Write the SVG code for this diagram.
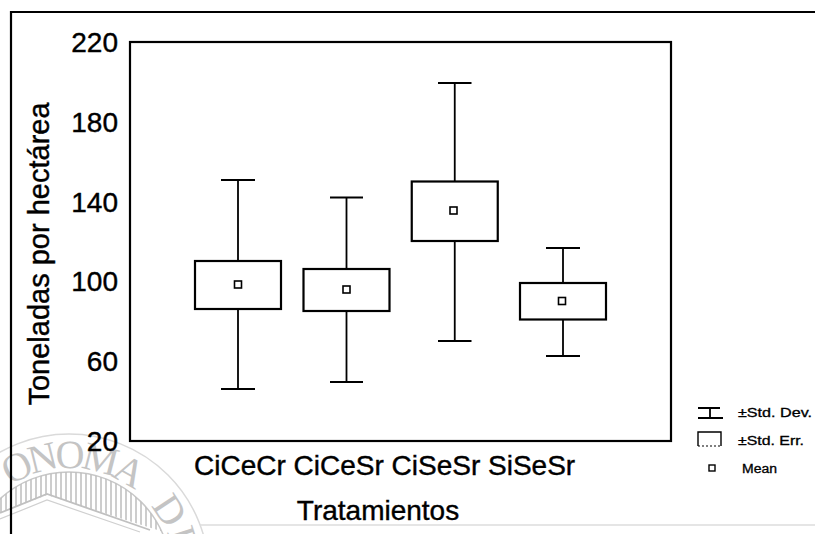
<svg xmlns="http://www.w3.org/2000/svg" width="815" height="534" viewBox="0 0 815 534">
<style>
  .t { font-family: "Liberation Sans", Arial, sans-serif; fill: #000; stroke: #000; stroke-width: 0.4px; }
  .tick { font-size: 28px; text-anchor: end; }
  .leg { font-size: 12px; stroke-width: 0.3px; }
  .box { fill: #fff; stroke: #000; stroke-width: 2.2; }
  .wh { stroke: #000; stroke-width: 1.8; fill: none; }
  .mean { fill: #fff; stroke: #000; stroke-width: 1.6; }
  .frame { stroke: #000; fill: none; stroke-width: 2.2; }
  .wm { fill: #c4c4c4; font-family: "Liberation Serif", "Times New Roman", serif; font-size: 40px; letter-spacing: -4.5px; }
</style>
<defs>
  <pattern id="hatch" width="5" height="10" patternUnits="userSpaceOnUse">
    <line x1="1" y1="0" x2="1" y2="10" stroke="#bcbcbc" stroke-width="1.5"/>
  </pattern>
  <clipPath id="sealClip">
    <circle cx="69" cy="574" r="102"/>
  </clipPath>
  <path id="sealArc" d="M -5.95,499.05 A 106,106 0 0 1 168.6,610.25"/>
</defs>
<rect width="815" height="534" fill="#fff"/>

<!-- watermark seal (faint) -->
<g id="watermark">
  <circle cx="69" cy="574" r="140" fill="none" stroke="#dadada" stroke-width="1.5"/>
  <text class="wm"><textPath href="#sealArc" startOffset="21">ONOMA<tspan dx="26">D</tspan><tspan dx="6">E</tspan></textPath></text>
  <circle cx="69" cy="574" r="102" fill="none" stroke="#c8c8c8" stroke-width="1.5"/>
  <polygon points="0,460 170,460 170,534 47,495 0,513" fill="url(#hatch)" clip-path="url(#sealClip)"/>
  <polyline points="0,513 47,494 150,530" fill="none" stroke="#c0c0c0" stroke-width="1.8"/>
  <polyline points="0,519 47,500 140,532" fill="none" stroke="#d0d0d0" stroke-width="1.2"/>
</g>

<!-- outer frame -->
<g id="outer-frame">
  <line class="frame" x1="11" y1="12" x2="815" y2="12"/>
  <line class="frame" x1="11" y1="11" x2="11" y2="534"/>
  <line x1="200" y1="525" x2="815" y2="525" stroke="#dcdcdc" stroke-width="1.5"/>
</g>

<!-- plot area -->
<g id="plot-frame">
  <rect x="130" y="42" width="541" height="399" fill="none" stroke="#000" stroke-width="2.2"/>
</g>

<g id="y-axis">
  <text class="t tick" x="118" y="52">220</text>
  <text class="t tick" x="118" y="132">180</text>
  <text class="t tick" x="118" y="212">140</text>
  <text class="t tick" x="118" y="291">100</text>
  <text class="t tick" x="118" y="371">60</text>
  <text class="t tick" x="118" y="451">20</text>
  <text class="t" font-size="29" text-anchor="middle" transform="translate(49,254) rotate(-90)">Toneladas por hectárea</text>
</g>

<g id="x-axis">
  <text class="t" font-size="28" x="194" y="475">CiCeCr CiCeSr CiSeSr SiSeSr</text>
  <text class="t" font-size="28" text-anchor="middle" x="378" y="520">Tratamientos</text>
</g>

<g id="connectors">
  <path class="wh" d="M238,180 V261 M238,309 V389 M221,180 H255 M221,389 H255"/>
  <path class="wh" d="M346.5,197.5 V269 M346.5,311 V382 M330,197.5 H363 M330,382 H363"/>
  <path class="wh" d="M454.75,83 V181.5 M454.75,241 V341 M438,83 H471.5 M438,341 H471.5"/>
  <path class="wh" d="M563,248 V283 M563,319.5 V356 M546,248 H580 M546,356 H580"/>
</g>

<g id="CiCeCr">
  <rect class="box" x="195" y="261" width="86" height="48"/>
  <rect class="mean" x="234.5" y="281" width="7" height="7"/>
</g>
<g id="CiCeSr">
  <rect class="box" x="303.5" y="269" width="86" height="42"/>
  <rect class="mean" x="343" y="286" width="7" height="7"/>
</g>
<g id="CiSeSr">
  <rect class="box" x="411.75" y="181.5" width="86" height="59.5"/>
  <rect class="mean" x="450" y="207" width="7" height="7"/>
</g>
<g id="SiSeSr">
  <rect class="box" x="520" y="283" width="86" height="36.5"/>
  <rect class="mean" x="558.5" y="297.5" width="7" height="7"/>
</g>

<g id="legend">
  <path class="wh" stroke-width="1.4" d="M698,408 H720 M710,408 V418 M698,418 H723"/>
  <text class="t leg" x="738" y="417" textLength="74" lengthAdjust="spacingAndGlyphs">±Std. Dev.</text>
  <path d="M698,446 V432 H721 V446" fill="none" stroke="#000" stroke-width="1.4"/>
  <line x1="698" y1="446" x2="721" y2="446" stroke="#000" stroke-width="1.2" stroke-dasharray="2,2"/>
  <text class="t leg" x="738" y="445" textLength="66" lengthAdjust="spacingAndGlyphs">±Std. Err.</text>
  <rect x="709" y="465" width="6" height="6" fill="none" stroke="#000" stroke-width="1.4"/>
  <text class="t leg" x="742" y="473" textLength="35" lengthAdjust="spacingAndGlyphs">Mean</text>
</g>
</svg>
